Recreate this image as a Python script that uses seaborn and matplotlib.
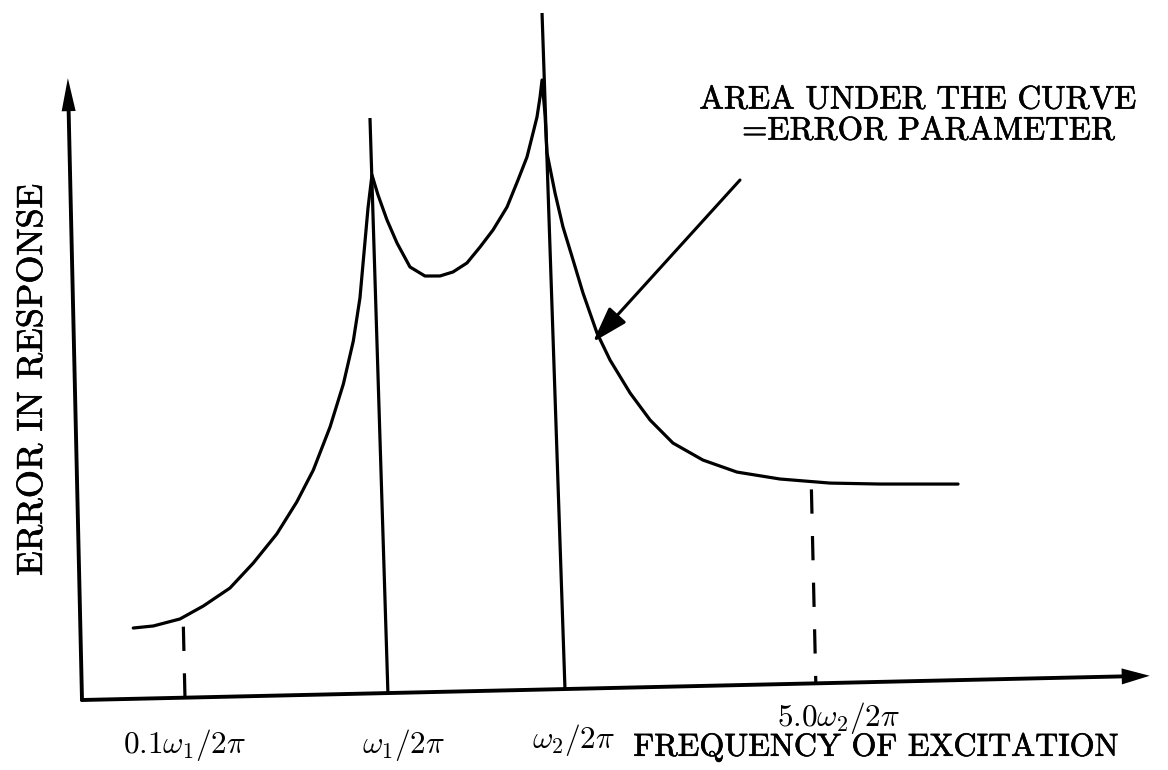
import numpy as np
import pandas as pd
import matplotlib
matplotlib.use("Agg")
import matplotlib.pyplot as plt
import matplotlib.patheffects as pe
from matplotlib.transforms import Affine2D
import seaborn as sns

# Error-in-response curve (frequency, error) in the chart frame
freq = [52.9, 73.0, 99.8, 123.4, 150.5, 174.4, 198.5, 219.2, 236.5, 254.2, 268.5,
        279.4, 287.0, 297.1, 301.8,
        307.4, 315.8, 325.3, 337.7, 352.5, 367.5, 380.6, 394.8, 408.2, 421.6, 436.1,
        447.7, 457.2, 463.8, 468.1, 471.6, 474.0,
        476.2, 477.3, 484.4, 491.6, 500.9, 510.1, 523.2, 535.6, 554.9, 574.3, 596.6,
        626.2, 660.0, 702.8, 752.7, 802.7, 880.7]
error = [70.8, 72.4, 78.8, 91.2, 108.6, 133.1, 161.6, 193.1, 224.7, 267.4, 310.1,
         352.8, 395.6, 485.4, 518.3,
         498.2, 473.0, 449.7, 425.5, 416.1, 415.8, 419.5, 428.2, 443.8, 460.6, 483.2,
         510.0, 532.8, 556.7, 572.5, 592.4, 609.4,
         574.3, 536.3, 496.2, 462.0, 428.8, 395.5, 355.2, 327.9, 294.5, 267.0, 243.5,
         225.8, 213.0, 205.1, 199.9, 197.8, 196.0]

# Resonance spikes: top (freq, error) and foot freq on the axis
spike_top_f = [301.1, 475.5]
spike_top_e = [575.3, 676.4]
spike_foot_f = [306.0, 483.1]

# Dashed markers at 0.1*w1 and 5.0*w2
marker_f = [103.0, 734.0]
marker_top = [71.0, 194.0]

# Axis extents
x_axis_end = 1068.0
y_axis_end = 622.0

tick_labels = [r"$0.1\omega_1/2\pi$", r"$\omega_1/2\pi$", r"$\omega_2/2\pi$", r"$5.0\omega_2/2\pi$"]
tick_label_xy = [(185, 745), (404, 745), (574, 740), (839, 718)]

W, H = 1168, 770
theta = np.deg2rad(1.3)
origin = (82.0, 700.0)

sns.set_theme(style="white")
plt.rcParams["mathtext.fontset"] = "cm"
plt.rcParams["font.family"] = ["cmr10", "DejaVu Serif"]
plt.rcParams["axes.unicode_minus"] = False

fig = plt.figure(figsize=(W / 100, H / 100), dpi=100)
ax = fig.add_axes([0, 0, 1, 1])
ax.set_xlim(0, W)
ax.set_ylim(H, 0)
ax.axis("off")

c, s = np.cos(theta), np.sin(theta)
chart = Affine2D(np.array([[c, -s, origin[0]],
                           [-s, -c, origin[1]],
                           [0, 0, 1]])) + ax.transData

lw = 2.3
ink = "black"
bold = [pe.withStroke(linewidth=0.45, foreground=ink)]

df = pd.DataFrame({"freq": freq, "error": error})
sns.lineplot(data=df, x="freq", y="error", sort=False, estimator=None, ax=ax,
             color=ink, linewidth=lw, transform=chart, legend=False)

for tf, te, ff in zip(spike_top_f, spike_top_e, spike_foot_f):
    ax.plot([tf, ff], [te, 0], color=ink, lw=lw, transform=chart, solid_capstyle="butt")

for f, top in zip(marker_f, marker_top):
    ax.plot([f, f], [top, 0], color=ink, lw=lw, transform=chart,
            dashes=(7.6, 7.0), dash_capstyle="butt")

# Axes with arrowheads
ax.plot([0, x_axis_end - 20], [0, 0], color=ink, lw=lw + 0.5, transform=chart)
ax.plot([0, 0], [0, y_axis_end - 25], color=ink, lw=lw + 0.5, transform=chart)
ax.fill([x_axis_end, x_axis_end - 28, x_axis_end - 28], [0, 8, -8], color=ink,
        transform=chart, lw=0)
ax.fill([0, -7, 7], [y_axis_end, y_axis_end - 33, y_axis_end - 33], color=ink,
        transform=chart, lw=0)

for lab, (x, y) in zip(tick_labels, tick_label_xy):
    ax.text(x, y, lab, fontsize=22.5, ha="center", va="center", color=ink)

ax.text(876, 748, "FREQUENCY OF EXCITATION", fontsize=23, ha="center", va="center",
        color=ink, path_effects=bold)
ax.text(33, 380, "ERROR IN RESPONSE", fontsize=26, ha="center", va="center",
        rotation=90, color=ink, path_effects=bold)
ax.text(918, 100, "AREA UNDER THE CURVE", fontsize=23.5, ha="center", va="center",
        color=ink, path_effects=bold)
ax.text(929, 131, "=ERROR PARAMETER", fontsize=23.5, ha="center", va="center",
        color=ink, path_effects=bold)

ax.annotate("", xy=(593, 342), xytext=(740, 180), xycoords="data",
            arrowprops=dict(arrowstyle="-|>,head_length=2.2,head_width=0.7",
                            mutation_scale=10, color=ink, lw=2.2,
                            shrinkA=0, shrinkB=0))

fig.savefig("out.png", dpi=100, facecolor="white")
